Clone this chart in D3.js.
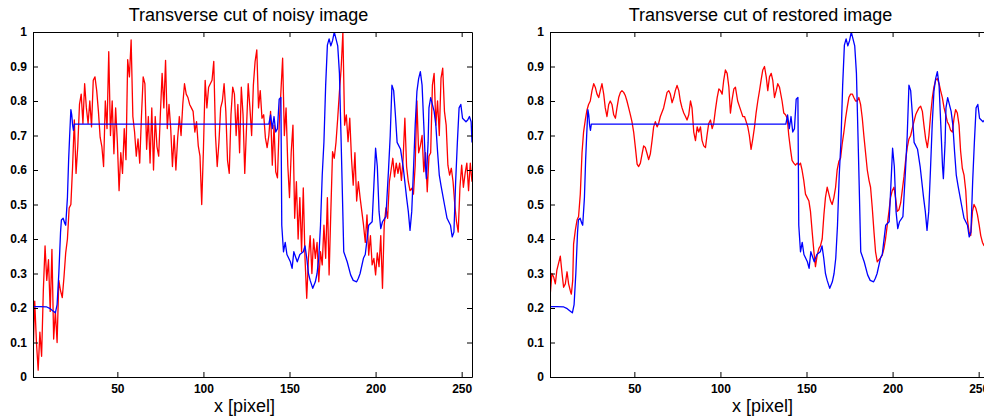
<!DOCTYPE html>
<html>
<head>
<meta charset="utf-8">
<script src="https://cdn.jsdelivr.net/npm/d3@7/dist/d3.min.js"></script>
<style>
    body { margin: 0; background: #fff; }
    svg { display: block; font-family: "Liberation Sans", Arial, sans-serif; }
</style>
</head>
<body>
<div id="chart"></div>
<script>
// tick values and labels
var xTicks = [50, 100, 150, 200, 250];
var yTicks = [0, 0.1, 0.2, 0.3, 0.4, 0.5, 0.6, 0.7, 0.8, 0.9, 1];
var yTickLabels = ["0", "0.1", "0.2", "0.3", "0.4", "0.5", "0.6", "0.7", "0.8", "0.9", "1"];

// original image cut (blue), same in both panels
var origX = [1, 5, 9, 11, 13, 14, 15, 16, 17, 17.5, 18.5, 19.5, 20, 21, 21.7, 22.3, 23, 23.5, 24, 24.5, 25,
    138, 139, 140, 141, 142, 143, 144, 145, 145.5, 146.5, 147.5, 148.5, 150.5, 151.5, 152.5, 154.5, 156, 158,
    159, 160, 161, 162, 163.5, 165, 166, 167, 168, 169, 170, 171, 172, 173, 174, 175, 176, 177, 178, 179,
    180, 180.6, 181.5, 183.5, 185.5, 187, 189, 190, 191, 193, 194, 196, 198, 199, 200, 201, 202, 203, 204, 206,
    207.5, 208.5, 209.5, 210.5, 211.5, 212.5, 214.5, 216, 218, 219, 220, 221, 222, 223, 224, 225, 226, 227, 228, 229,
    229.5, 230.5, 231, 232, 234, 235, 236, 237, 238, 240, 241.5, 243.5, 244.5, 245.5, 246.5, 247.5, 248.5, 249.5, 250.5, 251.5,
    252.5, 253.5, 254.5, 255.5, 256];
var origY = [0.204, 0.204, 0.203, 0.198, 0.19, 0.186, 0.21, 0.30, 0.42, 0.455, 0.46, 0.445, 0.44, 0.52, 0.63, 0.70, 0.775, 0.76, 0.73, 0.715, 0.733,
    0.733, 0.76, 0.72, 0.755, 0.71, 0.72, 0.805, 0.81, 0.44, 0.363, 0.39, 0.355, 0.334, 0.315, 0.363, 0.334, 0.355, 0.363,
    0.38, 0.345, 0.30, 0.28, 0.257, 0.276, 0.30, 0.345, 0.44, 0.585, 0.682, 0.846, 0.962, 0.98, 0.96, 0.975, 1.0, 0.98, 0.96, 0.88,
    0.68, 0.555, 0.363, 0.334, 0.296, 0.28, 0.276, 0.286, 0.30, 0.345, 0.355, 0.44, 0.45, 0.555, 0.663, 0.61, 0.48, 0.43, 0.45, 0.465,
    0.60, 0.70, 0.846, 0.83, 0.76, 0.68, 0.66, 0.61, 0.52, 0.48, 0.425, 0.48, 0.60, 0.73, 0.827, 0.865, 0.885, 0.846, 0.73, 0.61,
    0.575, 0.68, 0.78, 0.81, 0.77, 0.73, 0.653, 0.585, 0.555, 0.50, 0.46, 0.44, 0.406, 0.42, 0.565, 0.68, 0.78, 0.79, 0.75, 0.745,
    0.74, 0.745, 0.755, 0.74, 0.68];

// noisy image cut (red, left panel), one value per pixel 1..256
var noisyY = [
    0.06, 0.22, 0.10, 0.02, 0.13, 0.06, 0.25, 0.38, 0.28, 0.34,
    0.19, 0.37, 0.11, 0.19, 0.10, 0.28, 0.25, 0.23, 0.29, 0.36,
    0.40, 0.49, 0.50, 0.61, 0.745, 0.59, 0.668, 0.79, 0.82, 0.735,
    0.85, 0.78, 0.735, 0.80, 0.725, 0.86, 0.87, 0.83, 0.77, 0.695,
    0.668, 0.61, 0.80, 0.72, 0.943, 0.70, 0.80, 0.647, 0.78, 0.68,
    0.54, 0.65, 0.59, 0.72, 0.63, 0.92, 0.87, 0.977, 0.755, 0.71,
    0.64, 0.69, 0.62, 0.755, 0.87, 0.85, 0.66, 0.755, 0.62, 0.78,
    0.60, 0.755, 0.668, 0.64, 0.764, 0.88, 0.78, 0.918, 0.72, 0.79,
    0.72, 0.61, 0.70, 0.60, 0.69, 0.755, 0.70, 0.79, 0.85, 0.82,
    0.81, 0.79, 0.78, 0.77, 0.71, 0.74, 0.67, 0.64, 0.50, 0.66,
    0.86, 0.78, 0.84, 0.85, 0.86, 0.915, 0.70, 0.61, 0.68, 0.78,
    0.80, 0.85, 0.77, 0.627, 0.59, 0.76, 0.84, 0.82, 0.70, 0.79,
    0.65, 0.84, 0.76, 0.59, 0.72, 0.85, 0.78, 0.70, 0.846, 0.914,
    0.948, 0.78, 0.83, 0.75, 0.76, 0.693, 0.665, 0.70, 0.77, 0.614,
    0.73, 0.595, 0.577, 0.73, 0.827, 0.924, 0.70, 0.78, 0.614, 0.52,
    0.653, 0.73, 0.46, 0.566, 0.40, 0.52, 0.363, 0.548, 0.344, 0.228,
    0.344, 0.41, 0.30, 0.40, 0.344, 0.39, 0.276, 0.363, 0.325, 0.44,
    0.344, 0.52, 0.296, 0.48, 0.653, 0.634, 0.68, 0.75, 0.827, 0.895,
    1.0, 0.73, 0.76, 0.682, 0.75, 0.634, 0.556, 0.65, 0.51, 0.566,
    0.52, 0.48, 0.44, 0.39, 0.47, 0.353, 0.41, 0.325, 0.344, 0.296,
    0.36, 0.32, 0.41, 0.257, 0.44, 0.49, 0.46, 0.566, 0.60, 0.634,
    0.58, 0.62, 0.59, 0.62, 0.57, 0.634, 0.75, 0.61, 0.566, 0.54,
    0.547, 0.53, 0.614, 0.80, 0.65, 0.67, 0.70, 0.595, 0.65, 0.537,
    0.64, 0.65, 0.846, 0.88, 0.73, 0.80, 0.70, 0.866, 0.895, 0.77,
    0.73, 0.614, 0.585, 0.605, 0.566, 0.50, 0.45, 0.42, 0.55, 0.614,
    0.55, 0.59, 0.62, 0.54, 0.62, 0.566];
var noisyX = noisyY.map(function (d, i) { return i + 1; });

// restored image cut (red, right panel)
var restX = [1.2, 2.1, 3.1, 4.1, 5, 6, 7, 8, 8.9, 9.9,
    10.9, 11.8, 12.8, 13.4, 14.2, 14.7, 15.7, 16.7, 17.6, 18.6,
    19.6, 20.5, 21.5, 22.5, 23.4, 24.4, 25.4, 26.4, 27.3, 28.3,
    29.3, 30.2, 31.2, 32.2, 33.1, 34.1, 35.1, 36, 37, 38,
    39, 39.9, 40.9, 41.9, 42.8, 43.8, 44.8, 45.7, 46.7, 47.7,
    48.6, 49.6, 50.6, 51.6, 52.5, 53.5, 54.5, 55.4, 56.4, 57.4,
    58.3, 59.3, 60.3, 61.2, 62.2, 63.2, 64.1, 65.1, 67, 69,
    70, 70.9, 71.9, 72.9, 73.8, 74.8, 75.8, 76.7, 77.7, 78.7,
    79.7, 80.6, 81.6, 82.6, 83.5, 84.5, 85.5, 86.5, 87.4, 88.4,
    89.3, 90.3, 91.3, 92.2, 93.2, 94.2, 95.2, 96.1, 97.1, 98.1,
    99.1, 100, 101, 101.9, 102.9, 103.9, 104.9, 105.8, 106.8, 107.8,
    108.7, 110, 112, 113, 114, 115.9, 116.8, 117.8, 118.8, 119.8,
    120.7, 121.7, 122.7, 123.6, 124.6, 125.6, 126.6, 127.5, 128.5, 129.5,
    130.4, 131.4, 132.4, 133.3, 134.3, 135.8, 136.8, 137.8, 138.8, 139.7,
    140.7, 141.6, 142.6, 143.6, 144.6, 145.5, 146.5, 147.4, 148.4, 149.4,
    150.4, 151.4, 152.3, 153.3, 154.3, 155.2, 156.2, 157.2, 158.1, 159.1,
    160.1, 161, 162, 163, 164, 164.9, 165.9, 166.9, 167.8, 168.8,
    169.8, 170.7, 171.7, 172.7, 173.6, 174.6, 175.6, 176.6, 177.5, 178.5,
    179.5, 180.4, 181.4, 182.4, 183.3, 184.3, 185.3, 186.3, 187.2, 188.2,
    189.2, 190.1, 191.1, 192.1, 193, 194, 195, 195.9, 196.9, 197.9,
    198.8, 199.8, 200.8, 201.7, 202.7, 203.7, 204.7, 205.6, 206.6, 207.6,
    208.5, 209.5, 210.5, 211.4, 212.4, 213.4, 214.3, 215.3, 216.3, 217.3,
    218.2, 219.2, 220.2, 221.1, 222.1, 223.1, 224, 225, 226, 227,
    227.9, 228.9, 229.9, 230.9, 231.8, 232.8, 233.7, 234.7, 235.7, 236.6,
    237.6, 238.6, 239.5, 240.5, 241.5, 242.5, 243.4, 244.4, 245.4, 246.4,
    247.3, 248.3, 249.3, 250.3, 251.2, 252.2, 253.2];
var restY = [0.243, 0.30, 0.29, 0.27, 0.31, 0.33, 0.35, 0.30, 0.26, 0.27,
    0.305, 0.27, 0.25, 0.24, 0.28, 0.385, 0.425, 0.455, 0.465, 0.53,
    0.65, 0.71, 0.745, 0.774, 0.79, 0.80, 0.83, 0.85, 0.84, 0.82,
    0.81, 0.83, 0.85, 0.82, 0.78, 0.755, 0.79, 0.80, 0.79, 0.76,
    0.75, 0.78, 0.81, 0.825, 0.83, 0.825, 0.815, 0.80, 0.78, 0.76,
    0.74, 0.71, 0.665, 0.617, 0.61, 0.62, 0.647, 0.67, 0.665, 0.647,
    0.63, 0.647, 0.686, 0.725, 0.74, 0.725, 0.735, 0.755, 0.78, 0.825,
    0.83, 0.82, 0.795, 0.81, 0.83, 0.845, 0.83, 0.80, 0.78, 0.765,
    0.755, 0.745, 0.76, 0.80, 0.78, 0.71, 0.685, 0.725, 0.71, 0.725,
    0.686, 0.67, 0.665, 0.70, 0.735, 0.745, 0.72, 0.735, 0.775, 0.81,
    0.835, 0.83, 0.82, 0.86, 0.89, 0.88, 0.84, 0.765, 0.805, 0.835,
    0.84, 0.80, 0.77, 0.755, 0.755, 0.725, 0.70, 0.66, 0.69, 0.725,
    0.765, 0.80, 0.83, 0.86, 0.89, 0.90, 0.87, 0.83, 0.87, 0.88,
    0.86, 0.81, 0.83, 0.85, 0.84, 0.80, 0.765, 0.76, 0.75, 0.70,
    0.66, 0.628, 0.62, 0.614, 0.62, 0.614, 0.62, 0.60, 0.57, 0.53,
    0.52, 0.51, 0.48, 0.42, 0.363, 0.32, 0.353, 0.373, 0.38, 0.40,
    0.47, 0.52, 0.55, 0.53, 0.51, 0.50, 0.52, 0.55, 0.60, 0.625,
    0.635, 0.675, 0.71, 0.75, 0.78, 0.81, 0.82, 0.82, 0.81, 0.80,
    0.80, 0.81, 0.79, 0.75, 0.70, 0.65, 0.60, 0.57, 0.55, 0.49,
    0.42, 0.363, 0.334, 0.34, 0.345, 0.353, 0.373, 0.40, 0.44, 0.48,
    0.52, 0.54, 0.55, 0.52, 0.48, 0.485, 0.505, 0.54, 0.58, 0.63,
    0.665, 0.69, 0.70, 0.72, 0.74, 0.76, 0.77, 0.78, 0.785, 0.77,
    0.73, 0.69, 0.665, 0.70, 0.76, 0.81, 0.84, 0.86, 0.865, 0.85,
    0.83, 0.81, 0.78, 0.76, 0.74, 0.73, 0.715, 0.71, 0.75, 0.775,
    0.765, 0.73, 0.655, 0.605, 0.585, 0.54, 0.46, 0.42, 0.41, 0.48,
    0.50, 0.49, 0.47, 0.44, 0.41, 0.39, 0.38];

var totalWidth = 984, totalHeight = 418;
var plotWidth = 439, plotHeight = 345, plotTop = 32;

var svg = d3.select("#chart").append("svg")
    .attr("width", totalWidth)
    .attr("height", totalHeight);

// draws one subplot; left is the x of the axes box
function drawPanel(id, left, title, titleShift, labelShift, redX, redY) {
    var x = d3.scaleLinear().domain([1, 256]).range([0, plotWidth]);
    var y = d3.scaleLinear().domain([0, 1]).range([plotHeight, 0]);

    var g = svg.append("g")
        .attr("transform", "translate(" + left + "," + plotTop + ")");

    // clip the curves to the axes box
    g.append("clipPath")
        .attr("id", "clip-" + id)
        .append("rect")
        .attr("width", plotWidth)
        .attr("height", plotHeight);

    var line = d3.line()
        .x(function (d) { return x(d[0]); })
        .y(function (d) { return y(d[1]); });

    var curves = g.append("g").attr("clip-path", "url(#clip-" + id + ")");

    // red first, blue drawn over it
    curves.append("path")
        .datum(d3.zip(redX, redY))
        .attr("fill", "none")
        .attr("stroke", "#ff0000")
        .attr("stroke-width", 1.3)
        .attr("stroke-linejoin", "round")
        .attr("d", line);

    curves.append("path")
        .datum(d3.zip(origX, origY))
        .attr("fill", "none")
        .attr("stroke", "#0000ff")
        .attr("stroke-width", 1.3)
        .attr("stroke-linejoin", "round")
        .attr("d", line);

    // axes, ticks pointing inward like matlab
    var bottom = g.append("g")
        .attr("transform", "translate(0," + plotHeight + ")")
        .call(d3.axisBottom(x).tickValues(xTicks).tickSizeInner(-5).tickSizeOuter(0).tickPadding(7));

    g.append("g")
        .call(d3.axisTop(x).tickValues(xTicks).tickSizeInner(-5).tickSizeOuter(0).tickFormat(""));

    var leftAxis = g.append("g")
        .call(d3.axisLeft(y).tickValues(yTicks).tickSizeInner(-5).tickSizeOuter(0).tickPadding(6)
            .tickFormat(function (d, i) { return yTickLabels[i]; }));

    g.append("g")
        .attr("transform", "translate(" + plotWidth + ",0)")
        .call(d3.axisRight(y).tickValues(yTicks).tickSizeInner(-5).tickSizeOuter(0).tickFormat(""));

    g.selectAll(".domain, .tick line").attr("stroke", "#000").attr("stroke-width", 1);

    bottom.selectAll("text")
        .attr("font-family", "'Liberation Sans', Arial, sans-serif")
        .attr("font-size", 12)
        .attr("font-weight", "bold")
        .attr("fill", "#000");
    leftAxis.selectAll("text")
        .attr("font-family", "'Liberation Sans', Arial, sans-serif")
        .attr("font-size", 12)
        .attr("font-weight", "bold")
        .attr("fill", "#000");

    // title
    g.append("text")
        .attr("x", plotWidth / 2 + titleShift)
        .attr("y", -11)
        .attr("text-anchor", "middle")
        .attr("font-size", 18)
        .attr("fill", "#000")
        .text(title);

    // x label
    g.append("text")
        .attr("x", plotWidth / 2 + labelShift)
        .attr("y", plotHeight + 35)
        .attr("text-anchor", "middle")
        .attr("font-size", 18)
        .attr("fill", "#000")
        .text("x [pixel]");
}

drawPanel("noisy", 33, "Transverse cut of noisy image", -4, -8, noisyX, noisyY);
drawPanel("restored", 550, "Transverse cut of restored image", -9, -7, restX, restY);
</script>
</body>
</html>
